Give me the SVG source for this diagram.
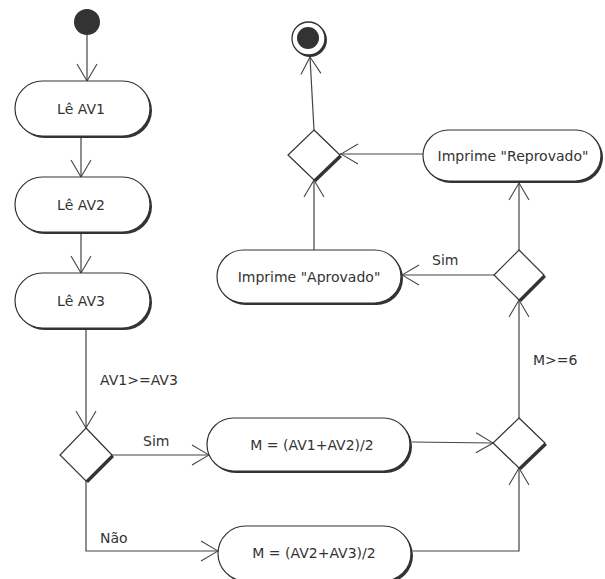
<svg xmlns="http://www.w3.org/2000/svg" width="605" height="579" viewBox="0 0 605 579">
<style>
.body{fill:#fff;stroke:#333;stroke-width:1.2}
.shadow{fill:#333;stroke:none}
.t{font-family:"DejaVu Sans",sans-serif;font-size:14px;fill:#333;text-anchor:middle}
.lbl{font-family:"DejaVu Sans",sans-serif;font-size:14px;fill:#333}
.c{fill:none;stroke:#444;stroke-width:1.2;marker-end:url(#arr)}
</style>
<defs>
<marker id="arr" markerUnits="userSpaceOnUse" markerWidth="24" markerHeight="24" refX="0" refY="0" viewBox="-20 -12 24 24" orient="auto" overflow="visible">
<path d="M-17,-10 L1,0.6 M-17,10 L1,-0.6" fill="none" stroke="#444" stroke-width="1.1"/>
</marker>
</defs>
<rect width="605" height="579" fill="#fff"/>
<g id="connectors">
<path class="c" d="M87,34 L87,81"/>
<path class="c" d="M81,137 L81,177"/>
<path class="c" d="M81,233 L81,273"/>
<path class="c" d="M86,329 L86,428"/>
<path class="c" d="M112,455 L209,455"/>
<path class="c" d="M86,481 L86,551 L218,551"/>
<path class="c" d="M412,442 L493,443"/>
<path class="c" d="M413,551 L519,551 L519,468"/>
<path class="c" d="M519,418 L519,300"/>
<path class="c" d="M519,250 L519,183"/>
<path class="c" d="M494,275 L402,275"/>
<path class="c" d="M314,250 L314,180"/>
<path class="c" d="M423,154 L341,154"/>
<path class="c" d="M314,130 L310,57"/>
</g>
<g id="start">
<circle cx="87" cy="22" r="13" fill="#333"/>
</g>
<g id="n_av1">
<rect class="shadow" x="17" y="83" width="135" height="55" rx="27.5"/>
<rect class="body" x="15" y="81" width="135" height="55" rx="27.5"/>
<text class="t" x="81" y="114">Lê AV1</text>
</g>
<g id="n_av2">
<rect class="shadow" x="17" y="179" width="135" height="55" rx="27.5"/>
<rect class="body" x="15" y="177" width="135" height="55" rx="27.5"/>
<text class="t" x="81" y="210">Lê AV2</text>
</g>
<g id="n_av3">
<rect class="shadow" x="17" y="275" width="135" height="55" rx="27.5"/>
<rect class="body" x="15" y="273" width="135" height="55" rx="27.5"/>
<text class="t" x="81" y="306">Lê AV3</text>
</g>
<g id="d1">
<path class="shadow" d="M88,430 L114,457 L88,483 L62,457 Z"/>
<path class="body" d="M86,428 L112,455 L86,481 L60,455 Z"/>
</g>
<g id="n_m1">
<rect class="shadow" x="209" y="420" width="203" height="53" rx="26.5"/>
<rect class="body" x="207" y="418" width="203" height="53" rx="26.5"/>
<text class="t" x="312" y="450">M = (AV1+AV2)/2</text>
</g>
<g id="n_m2">
<rect class="shadow" x="220" y="528" width="193" height="55" rx="27.5"/>
<rect class="body" x="218" y="526" width="193" height="55" rx="27.5"/>
<text class="t" x="314" y="558">M = (AV2+AV3)/2</text>
</g>
<g id="d2">
<path class="shadow" d="M521,420 L547,445 L521,470 L495,445 Z"/>
<path class="body" d="M519,418 L545,443 L519,468 L493,443 Z"/>
</g>
<g id="d3">
<path class="shadow" d="M521,252 L546,277 L521,302 L496,277 Z"/>
<path class="body" d="M519,250 L544,275 L519,300 L494,275 Z"/>
</g>
<g id="n_aprov">
<rect class="shadow" x="219" y="252" width="184" height="53" rx="26.5"/>
<rect class="body" x="217" y="250" width="184" height="53" rx="26.5"/>
<text class="t" x="309" y="282">Imprime "Aprovado"</text>
</g>
<g id="n_reprov">
<rect class="shadow" x="425" y="132" width="178" height="51" rx="25.5"/>
<rect class="body" x="423" y="130" width="178" height="51" rx="25.5"/>
<text class="t" x="513" y="161">Imprime "Reprovado"</text>
</g>
<g id="d4">
<path class="shadow" d="M316,132 L342,157 L316,182 L290,157 Z"/>
<path class="body" d="M314,130 L340,155 L314,180 L288,155 Z"/>
</g>
<g id="end">
<circle cx="310" cy="40" r="17" fill="#333"/>
<circle cx="308.5" cy="38.5" r="16.5" fill="#fff" stroke="#333" stroke-width="1.3"/>
<circle cx="308" cy="38" r="11" fill="#333"/>
</g>
<g id="labels">
<text class="lbl" x="100" y="385">AV1&gt;=AV3</text>
<text class="lbl" x="143" y="446">Sim</text>
<text class="lbl" x="100" y="543">Não</text>
<text class="lbl" x="432" y="265">Sim</text>
<text class="lbl" x="533" y="365">M&gt;=6</text>
</g>
</svg>
